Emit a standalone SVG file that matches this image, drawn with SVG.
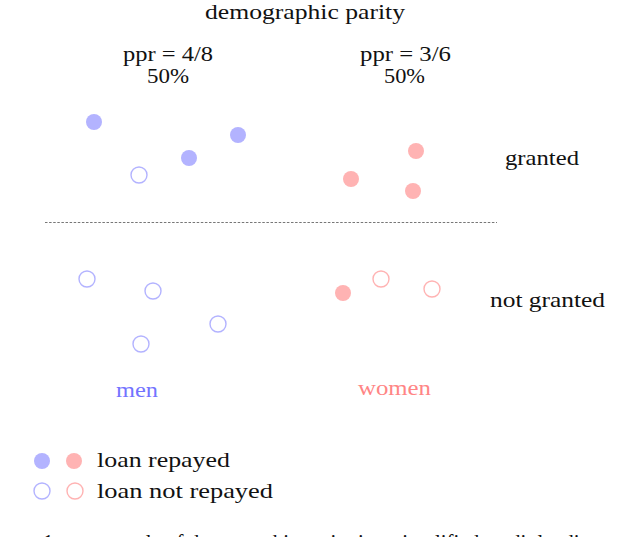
<svg xmlns="http://www.w3.org/2000/svg" width="640" height="537" viewBox="0 0 640 537">
<style>
.t{font-family:"Liberation Serif","DejaVu Serif",serif;font-size:21px;fill:#111}
.c{text-anchor:middle}
.bf{fill:#b3b3ff}
.pf{fill:#ffb3b3}
.bo{fill:none;stroke:#b3b3ff;stroke-width:1.4}
.po{fill:none;stroke:#ffb3b3;stroke-width:1.4}
.div{stroke:#777;stroke-width:1.2;stroke-dasharray:2.5 1.6}
</style>
<rect width="640" height="537" fill="#fff"/>
<g id="title"><text class="t" x="205" y="19" textLength="200" lengthAdjust="spacingAndGlyphs">demographic  parity</text></g>
<g id="men-ppr">
<text class="t" x="123" y="61" textLength="90" lengthAdjust="spacingAndGlyphs">ppr = 4/8</text>
<text class="t" x="147" y="83" textLength="42" lengthAdjust="spacingAndGlyphs">50%</text>
</g>
<g id="women-ppr">
<text class="t" x="360" y="61" textLength="91" lengthAdjust="spacingAndGlyphs">ppr = 3/6</text>
<text class="t" x="384" y="83" textLength="41" lengthAdjust="spacingAndGlyphs">50%</text>
</g>
<g id="connectors"><line class="div" x1="45" y1="222.5" x2="497" y2="222.5"/></g>
<g id="men-granted">
<circle class="bf" cx="94" cy="122" r="8"/>
<circle class="bf" cx="238" cy="135" r="8"/>
<circle class="bf" cx="189" cy="158" r="8"/>
<circle class="bo" cx="139" cy="175" r="8"/>
</g>
<g id="women-granted">
<circle class="pf" cx="416" cy="151" r="8"/>
<circle class="pf" cx="351" cy="179" r="8"/>
<circle class="pf" cx="413" cy="191" r="8"/>
</g>
<g id="men-not-granted">
<circle class="bo" cx="87" cy="279" r="8"/>
<circle class="bo" cx="153" cy="291" r="8"/>
<circle class="bo" cx="218" cy="324" r="8"/>
<circle class="bo" cx="141" cy="344" r="8"/>
</g>
<g id="women-not-granted">
<circle class="pf" cx="343" cy="293" r="8"/>
<circle class="po" cx="381" cy="279" r="8"/>
<circle class="po" cx="432" cy="289" r="8"/>
</g>
<g id="label-granted"><text class="t" x="505" y="165" textLength="74" lengthAdjust="spacingAndGlyphs">granted</text></g>
<g id="label-not-granted"><text class="t" x="490" y="307" textLength="115" lengthAdjust="spacingAndGlyphs">not granted</text></g>
<g id="label-men"><text class="t" x="116" y="397" textLength="42" lengthAdjust="spacingAndGlyphs" style="fill:#7373ff">men</text></g>
<g id="label-women"><text class="t" x="358" y="395" textLength="73" lengthAdjust="spacingAndGlyphs" style="fill:#ff8585">women</text></g>
<g id="legend">
<circle class="bf" cx="42" cy="461" r="8"/>
<circle class="pf" cx="74" cy="461" r="8"/>
<circle class="bo" cx="42" cy="491" r="8"/>
<circle class="po" cx="75" cy="491" r="8"/>
<text class="t" x="97" y="467" textLength="133" lengthAdjust="spacingAndGlyphs">loan  repayed</text>
<text class="t" x="97" y="498" textLength="176" lengthAdjust="spacingAndGlyphs">loan  not  repayed</text>
</g>
<g id="caption"><text class="t" x="43" y="549">1: an example of demographic parity in a simplified credit lending scenario</text></g>
</svg>
